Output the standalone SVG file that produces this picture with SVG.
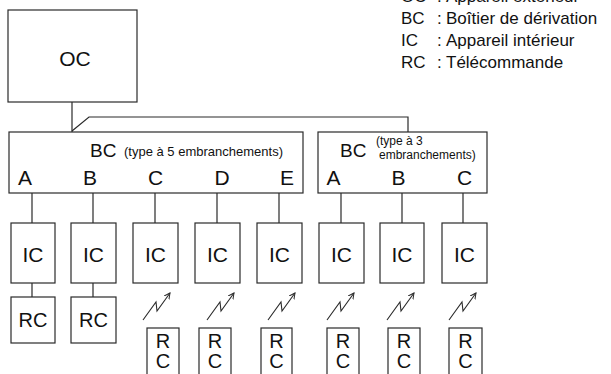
<svg xmlns="http://www.w3.org/2000/svg" width="611" height="374" viewBox="0 0 611 374">
<style>
.box{fill:#fff;stroke:#2a2a2a;stroke-width:1.2}
.ln{fill:none;stroke:#2a2a2a;stroke-width:1.2}
text{font-family:"Liberation Sans",Arial,sans-serif;fill:#111}
.big{font-size:21px;text-anchor:middle}
.lg{font-size:17px}
.rc2{font-size:20px;text-anchor:middle}
</style>
<defs>
<marker id="ah" markerWidth="8" markerHeight="8" refX="6" refY="3" orient="auto" markerUnits="userSpaceOnUse">
<path d="M0,0 L6,3 L0,6" fill="none" stroke="#2a2a2a" stroke-width="1"/>
</marker>
<symbol id="bolt" overflow="visible">
<path d="M0,27 L13,9 L14,18 L27,0" fill="none" stroke="#2a2a2a" stroke-width="1.1" marker-end="url(#ah)"/>
</symbol>
</defs>

<g id="legend" class="lg">
<text x="401" y="2">OC</text><text x="437" y="2">:</text><text x="446" y="2">Appareil extérieur</text>
<text x="401" y="24">BC</text><text x="437" y="24">:</text><text x="446" y="24">Boîtier de dérivation</text>
<text x="401" y="46">IC</text><text x="437" y="46">:</text><text x="446" y="46">Appareil intérieur</text>
<text x="401" y="68">RC</text><text x="437" y="68">:</text><text x="446" y="68">Télécommande</text>
</g>

<g id="connectors">
<path class="ln" d="M72,102 V132"/>
<path class="ln" d="M72,131 L89,117 H408 V132"/>
<path class="ln" d="M32,193 V223 M93,193 V223 M155,193 V223 M217,193 V223 M279,193 V223 M341,193 V223 M402,193 V223 M463,193 V223"/>
<path class="ln" d="M32,283 V297 M93,283 V297"/>
<use href="#bolt" x="143" y="293"/>
<use href="#bolt" x="207" y="293"/>
<use href="#bolt" x="268" y="293"/>
<use href="#bolt" x="327" y="293"/>
<use href="#bolt" x="387" y="293"/>
<use href="#bolt" x="449" y="293"/>
</g>

<g id="oc">
<rect class="box" x="8" y="10" width="129" height="92"/>
<text class="big" x="75" y="66">OC</text>
</g>

<g id="bc5">
<rect class="box" x="9" y="132" width="294" height="61"/>
<text x="90" y="157" font-size="19">BC</text>
<text x="124" y="156" font-size="13">(type à 5 embranchements)</text>
<text class="big" x="25" y="185">A</text>
<text class="big" x="90" y="185">B</text>
<text class="big" x="155.5" y="185">C</text>
<text class="big" x="222" y="185">D</text>
<text class="big" x="287" y="185">E</text>
</g>

<g id="bc3">
<rect class="box" x="318" y="132" width="169" height="61"/>
<text x="340" y="157" font-size="19">BC</text>
<text x="376" y="145" font-size="12">(type à 3</text>
<text x="379" y="159" font-size="12">embranchements)</text>
<text class="big" x="333.5" y="185">A</text>
<text class="big" x="398.5" y="185">B</text>
<text class="big" x="464.5" y="185">C</text>
</g>

<g id="ic1"><rect class="box" x="11" y="223" width="44" height="60"/><text class="big" x="33" y="262">IC</text></g>
<g id="ic2"><rect class="box" x="71" y="223" width="45" height="60"/><text class="big" x="93.5" y="262">IC</text></g>
<g id="ic3"><rect class="box" x="133" y="223" width="45" height="60"/><text class="big" x="155.5" y="262">IC</text></g>
<g id="ic4"><rect class="box" x="195" y="223" width="45" height="60"/><text class="big" x="217.5" y="262">IC</text></g>
<g id="ic5"><rect class="box" x="257" y="223" width="45" height="60"/><text class="big" x="279.5" y="262">IC</text></g>
<g id="ic6"><rect class="box" x="319" y="223" width="45" height="60"/><text class="big" x="341.5" y="262">IC</text></g>
<g id="ic7"><rect class="box" x="380" y="223" width="44" height="60"/><text class="big" x="402" y="262">IC</text></g>
<g id="ic8"><rect class="box" x="442" y="223" width="45" height="60"/><text class="big" x="464.5" y="262">IC</text></g>

<g id="rc1"><rect class="box" x="11" y="297" width="44" height="46"/><text class="rc2" x="33" y="327">RC</text></g>
<g id="rc2"><rect class="box" x="71" y="297" width="45" height="46"/><text class="rc2" x="93.5" y="327">RC</text></g>

<g id="rc3"><rect class="box" x="147" y="328" width="32" height="52"/><text class="rc2" x="163" y="348">R</text><text class="rc2" x="163" y="368">C</text></g>
<g id="rc4"><rect class="box" x="199" y="328" width="32" height="52"/><text class="rc2" x="215" y="348">R</text><text class="rc2" x="215" y="368">C</text></g>
<g id="rc5"><rect class="box" x="261" y="328" width="31" height="52"/><text class="rc2" x="276.5" y="348">R</text><text class="rc2" x="276.5" y="368">C</text></g>
<g id="rc6"><rect class="box" x="327" y="328" width="32" height="52"/><text class="rc2" x="343" y="348">R</text><text class="rc2" x="343" y="368">C</text></g>
<g id="rc7"><rect class="box" x="388" y="328" width="32" height="52"/><text class="rc2" x="404" y="348">R</text><text class="rc2" x="404" y="368">C</text></g>
<g id="rc8"><rect class="box" x="449" y="328" width="33" height="52"/><text class="rc2" x="465.5" y="348">R</text><text class="rc2" x="465.5" y="368">C</text></g>
</svg>
